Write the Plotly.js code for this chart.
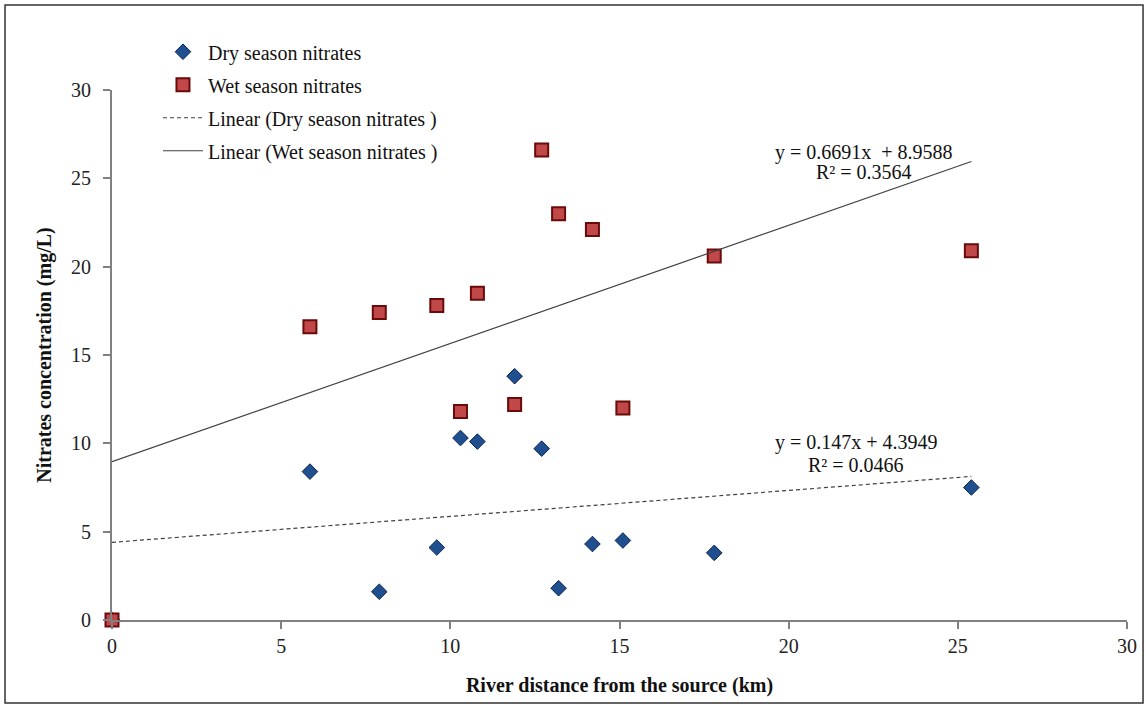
<!DOCTYPE html>
<html>
<head>
<meta charset="utf-8">
<script src="https://cdn.plot.ly/plotly-3.0.1.min.js"></script>
<style>html,body{margin:0;padding:0;background:#fff;}#chart{width:1146px;height:705px;}</style>
</head>
<body>
<div id="chart"></div>
<script>
// River distance from the source (km)
const distance = [0, 5.85, 7.9, 9.6, 10.3, 10.8, 11.9, 12.7, 13.2, 14.2, 15.1, 17.8, 25.4];
// Nitrates concentration (mg/L)
const dryNitrates = [0, 8.4, 1.6, 4.1, 10.3, 10.1, 13.8, 9.7, 1.8, 4.3, 4.5, 3.8, 7.5];
const wetNitrates = [0, 16.6, 17.4, 17.8, 11.8, 18.5, 12.2, 26.6, 23.0, 22.1, 12.0, 20.6, 20.9];
// Trendline coefficients as printed on the chart
const drySlope = 0.147, dryIntercept = 4.3949, dryR2 = "0.0466";
const wetSlope = 0.6691, wetIntercept = 8.9588, wetR2 = "0.3564";
const tickVals = [0, 5, 10, 15, 20, 25, 30];

const xMin = Math.min(...distance), xMax = Math.max(...distance);
const trendX = [xMin, xMax];
const dryTrendY = trendX.map(x => drySlope * x + dryIntercept);
const wetTrendY = trendX.map(x => wetSlope * x + wetIntercept);

const serif = "Liberation Serif, Times New Roman, serif";

const traces = [
  {x: distance, y: dryNitrates, mode: "markers", type: "scatter", name: "Dry season nitrates", legendgroup: "a",
   cliponaxis: false,
   marker: {symbol: "diamond", size: 12, color: "#1f4f8f", line: {color: "#0d2552", width: 1}}},
  {x: distance, y: wetNitrates, mode: "markers", type: "scatter", name: "Wet season nitrates", legendgroup: "b",
   cliponaxis: false,
   marker: {symbol: "square", size: 13, color: "#c04848", line: {color: "#6a0a0a", width: 2}}},
  {x: trendX, y: dryTrendY, mode: "lines", type: "scatter", name: "Linear (Dry season nitrates )", legendgroup: "c",
   line: {color: "#404040", width: 1.2, dash: "4px,3px"}},
  {x: trendX, y: wetTrendY, mode: "lines", type: "scatter", name: "Linear (Wet season nitrates )", legendgroup: "d",
   line: {color: "#404040", width: 1.2}}
];

const axisCommon = {
  range: [0, 30], tickvals: tickVals, ticks: "outside", ticklen: 7, tickcolor: "#808080", tickwidth: 2,
  showline: true, linecolor: "#808080", linewidth: 2, showgrid: false, zeroline: false,
  tickfont: {family: serif, size: 20, color: "#222"}
};

const annFont = {family: serif, size: 20, color: "#111"};
function ann(x, y, text) {
  return {xref: "x", yref: "y", x: x, y: y, text: text, showarrow: false,
          xanchor: "center", yanchor: "middle", font: annFont};
}

const layout = {
  width: 1146, height: 705,
  margin: {l: 112, r: 19, t: 90, b: 85},
  paper_bgcolor: "#fff", plot_bgcolor: "#fff",
  showlegend: true,
  legend: {x: 0.0453, y: 1.109, xanchor: "left", yanchor: "top", bgcolor: "rgba(0,0,0,0)", itemwidth: 40,
    font: {family: serif, size: 20, color: "#111"}, tracegroupgap: 4},
  xaxis: Object.assign({}, axisCommon, {
    ticklabelstandoff: 0,
    title: {text: "<b>River distance from the source (km)</b>", font: {family: serif, size: 20, color: "#111"}, standoff: 22}
  }),
  yaxis: Object.assign({}, axisCommon, {
    ticklabelstandoff: 8,
    title: {text: "<b>Nitrates concentration (mg/L)</b>", font: {family: serif, size: 20, color: "#111"}, standoff: 14}
  }),
  annotations: [
    ann(22.23, 26.49, "y = " + wetSlope + "x  + " + wetIntercept),
    ann(22.23, 25.35, "R² = " + wetR2),
    ann(21.99, 10.02, "y = " + drySlope + "x + " + dryIntercept),
    ann(21.99, 8.77, "R² = " + dryR2)
  ],
  shapes: [
    {type: "rect", xref: "paper", yref: "paper", x0: -0.1054, x1: 1.0158, y0: -0.1566, y1: 1.1604,
     line: {color: "#333", width: 1.5}, fillcolor: "rgba(0,0,0,0)", layer: "below"}
  ]
};

Plotly.newPlot("chart", traces, layout, {displayModeBar: false, staticPlot: true});
</script>
</body>
</html>
